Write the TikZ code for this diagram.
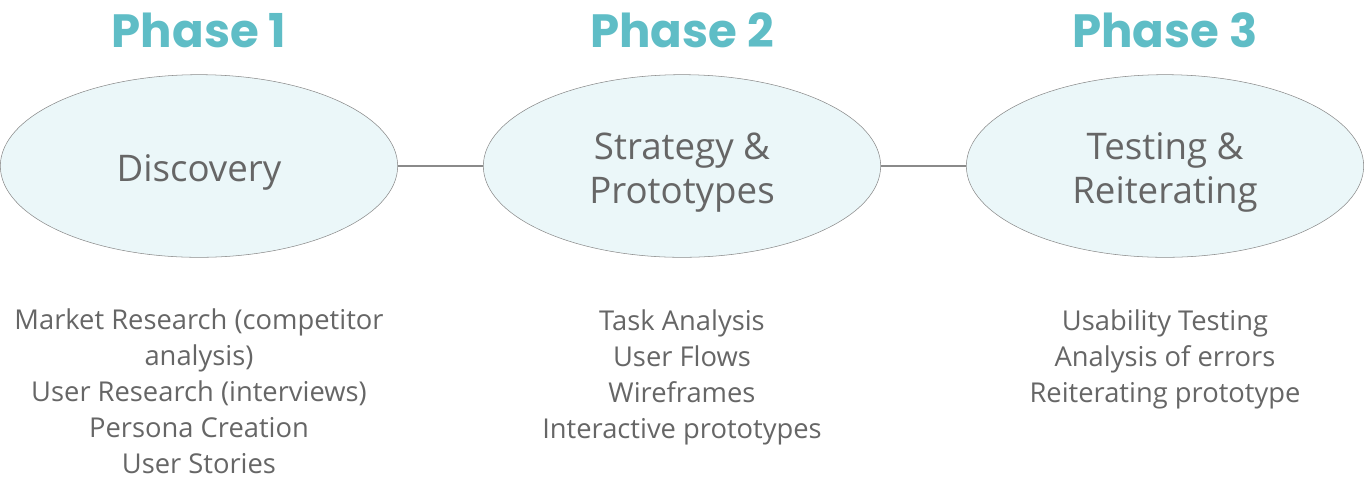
\documentclass[tikz,border=0pt]{standalone}
\usepackage{fontspec}
\setmainfont{Open Sans}
\newfontfamily\headfont{Poppins}
\usepackage{xcolor}
\usepackage{tikz}
\usetikzlibrary{positioning,shapes.geometric}
\definecolor{PhaseTeal}{HTML}{5FBDC6}
\definecolor{PhaseFill}{HTML}{EBF7F9}
\definecolor{PhaseLine}{HTML}{8A8A8A}
\definecolor{PhaseText}{HTML}{666666}

\begin{document}
\begin{tikzpicture}[
			x=0.75pt,y=-0.75pt,
			phase/.style={ellipse,draw=PhaseLine,fill=PhaseFill,inner sep=0pt,minimum width=298pt,minimum height=137pt},
			stage/.style={align=center,text=PhaseText,yshift=-5pt,font=\fontsize{27.5}{33}\selectfont},
			title/.style={text=PhaseTeal,font=\headfont\bfseries\fontsize{35}{40}\selectfont},
			tasks/.style={anchor=north,inner sep=0pt,align=center,text=PhaseText,font=\fontsize{20.5}{27}\selectfont},
			link/.style={draw=PhaseLine,thick}
		]
		\useasboundingbox (0,0) rectangle (1364,480);
		\node[title] (t1) at (199,30) {Phase 1};
		\node[title] (t2) at (682,30) {Phase 2};
		\node[title] (t3) at (1165,30) {Phase 3};
		\node[phase] (p1) at (199,166) {};
		\node[phase] (p2) at (682,166) {};
		\node[phase] (p3) at (1165,166) {};
		\node[stage] (s1) at (p1) {Discovery};
		\node[stage] (s2) at (p2) {Strategy \&\\Prototypes};
		\node[stage] (s3) at (p3) {Testing \&\\Reiterating};
		\node[tasks] (l1) at (199,308) {Market Research (competitor\\analysis)\\User Research (interviews)\\Persona Creation\\User Stories};
		\node[tasks] (l2) at (682,309) {Task Analysis\\User Flows\\Wireframes\\Interactive prototypes};
		\node[tasks] (l3) at (1165,309) {Usability Testing\\Analysis of errors\\Reiterating prototype};
		\draw[link] (p1)--(p2);
		\draw[link] (p2)--(p3);
	\end{tikzpicture}
\end{document}
